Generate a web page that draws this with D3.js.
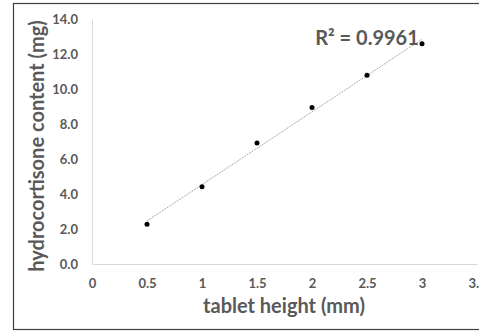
<!DOCTYPE html>
<html lang="en">
<head>
  <meta charset="UTF-8" />
  <title>Hydrocortisone content vs tablet height</title>
  <script src="https://d3js.org/d3.v7.min.js"></script>
  <style>
    body { margin: 0; background: #fff; font-family: Lato, "Open Sans", sans-serif; }
    .tick text { font-size: 13px; font-weight: bold; fill: #595959; font-family: Lato, sans-serif; }
    .axis-label { font-size: 20px; font-weight: bold; fill: #595959; }
  </style>
</head>
<body>
<svg width="479" height="331"></svg>

<script>
  // tablet height (mm) / hydrocortisone content (mg)
  const heights = [0.5, 1, 1.5, 2, 2.5, 3];
  const contents = [2.27, 4.42, 6.91, 8.95, 10.78, 12.59];
  const xTicks = [0, 0.5, 1, 1.5, 2, 2.5, 3, 3.5];
  const yTicks = [0, 2, 4, 6, 8, 10, 12, 14];
  const r2Label = "R² = 0.9961";

  const svg = d3.select("svg");
  const margin = { top: 19, left: 92 };
  const width = 385, height = 245;

  // chart border
  svg.append("rect")
    .attr("x", 13.5).attr("y", 3.5)
    .attr("width", 480).attr("height", 326)
    .attr("fill", "none").attr("stroke", "#404040").attr("stroke-width", 1.2);

  const g = svg.append("g").attr("transform", `translate(${margin.left},${margin.top})`);

  const x = d3.scaleLinear().domain([0, 3.5]).range([0, width]);
  const y = d3.scaleLinear().domain([0, 14]).range([height, 0]);

  const xAxis = g.append("g")
    .attr("transform", `translate(0,${height})`)
    .call(d3.axisBottom(x).tickValues(xTicks).tickSize(0).tickPadding(15).tickFormat(d3.format("")));
  xAxis.select(".domain").attr("stroke", "#d9d9d9");

  const yAxis = g.append("g")
    .call(d3.axisLeft(y).tickValues(yTicks).tickSize(0).tickPadding(14).tickFormat(d3.format(".1f")));
  yAxis.select(".domain").attr("stroke", "#d9d9d9");

  // linear trendline (least squares)
  const mx = d3.mean(heights), my = d3.mean(contents);
  let sxy = 0, sxx = 0;
  heights.forEach((h, i) => { sxy += (h - mx) * (contents[i] - my); sxx += (h - mx) ** 2; });
  const slope = sxy / sxx, intercept = my - slope * mx;
  const x0 = d3.min(heights), x1 = d3.max(heights);

  g.append("line")
    .attr("x1", x(x0)).attr("y1", y(intercept + slope * x0))
    .attr("x2", x(x1)).attr("y2", y(intercept + slope * x1))
    .attr("stroke", "#7f7f7f").attr("stroke-width", 0.9)
    .attr("stroke-dasharray", "1,1");

  g.selectAll("circle")
    .data(heights)
    .enter().append("circle")
    .attr("cx", d => x(d))
    .attr("cy", (d, i) => y(contents[i]))
    .attr("r", 2.5)
    .attr("fill", "#000");

  g.append("text")
    .attr("class", "axis-label")
    .attr("x", 275)
    .attr("y", 26)
    .attr("text-anchor", "middle")
    .text(r2Label);

  // axis titles
  svg.append("text")
    .attr("class", "axis-label")
    .attr("x", 284)
    .attr("y", 313)
    .attr("text-anchor", "middle")
    .text("tablet height (mm)");

  svg.append("text")
    .attr("class", "axis-label")
    .attr("transform", "rotate(-90)")
    .attr("x", -146)
    .attr("y", 44)
    .attr("text-anchor", "middle")
    .text("hydrocortisone content (mg)");
</script>
</body>
</html>
